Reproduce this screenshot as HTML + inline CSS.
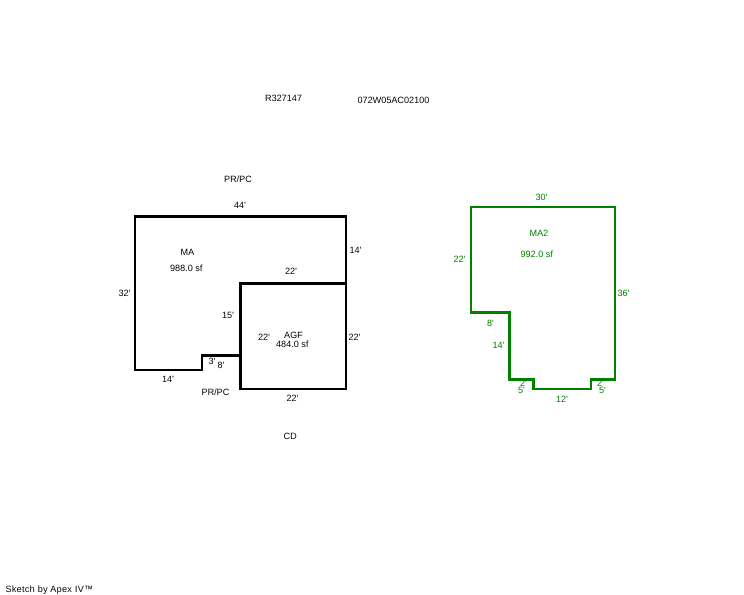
<!DOCTYPE html>
<html>
<head>
<meta charset="utf-8">
<style>
html,body{margin:0;padding:0;background:#fff;width:744px;height:595px;overflow:hidden}
svg{display:block}
text{font-family:"Liberation Sans",sans-serif;font-size:9.1px}
.g text{fill:#008000}
.k text{fill:#000}
</style>
</head>
<body>
<svg width="744" height="595" viewBox="0 0 744 595" xmlns="http://www.w3.org/2000/svg" shape-rendering="crispEdges">
<rect width="744" height="595" fill="#fff"/>
<g fill="#000">
<rect x="134" y="215" width="213" height="3"/>
<rect x="134" y="215" width="2" height="156"/>
<rect x="345" y="215" width="2" height="175"/>
<rect x="239" y="282" width="108" height="3"/>
<rect x="239" y="282" width="3" height="108"/>
<rect x="239" y="388" width="108" height="2"/>
<rect x="134" y="369" width="69" height="2"/>
<rect x="201" y="354" width="2" height="17"/>
<rect x="201" y="354" width="40" height="3"/>
</g>
<g fill="#008000">
<rect x="470" y="206" width="146" height="2"/>
<rect x="470" y="206" width="2" height="108"/>
<rect x="614" y="206" width="2" height="175"/>
<rect x="470" y="311" width="41" height="3"/>
<rect x="508" y="311" width="3" height="70"/>
<rect x="508" y="378" width="27" height="3"/>
<rect x="532" y="378" width="3" height="12"/>
<rect x="532" y="388" width="60" height="2"/>
<rect x="590" y="378" width="2" height="12"/>
<rect x="590" y="378" width="26" height="3"/>
</g>
<g class="k" style="text-rendering:geometricPrecision">
<text x="265" y="101">R327147</text>
<text x="357.500" y="103">072W05AC02100</text>
<text x="224" y="182">PR/PC</text>
<text x="234" y="208">44'</text>
<text x="180.500" y="255">MA</text>
<text x="170" y="271">988.0 sf</text>
<text x="285" y="274">22'</text>
<text x="349.500" y="253">14'</text>
<text x="118.500" y="296">32'</text>
<text x="222" y="318">15'</text>
<text x="258" y="340">22'</text>
<text x="284" y="338">AGF</text>
<text x="276" y="347">484.0 sf</text>
<text x="348.500" y="340">22'</text>
<text x="208.500" y="364">3'</text>
<text x="217.500" y="368">8'</text>
<text x="162" y="382">14'</text>
<text x="201.500" y="395">PR/PC</text>
<text x="286.500" y="401">22'</text>
<text x="283.500" y="439">CD</text>
<text x="5.500" y="592" letter-spacing="0.28">Sketch by Apex IV™</text>
</g>
<g class="g" style="text-rendering:geometricPrecision">
<text x="535.500" y="200">30'</text>
<text x="529.500" y="236">MA2</text>
<text x="520.500" y="257">992.0 sf</text>
<text x="453.500" y="262">22'</text>
<text x="617.500" y="296">36'</text>
<text x="487" y="326">8'</text>
<text x="492.500" y="348">14'</text>
<text x="520" y="386">2'</text>
<text x="518" y="393">5'</text>
<text x="597" y="386">2'</text>
<text x="599" y="393">5'</text>
<text x="556" y="402">12'</text>
</g>
</svg>
</body>
</html>
